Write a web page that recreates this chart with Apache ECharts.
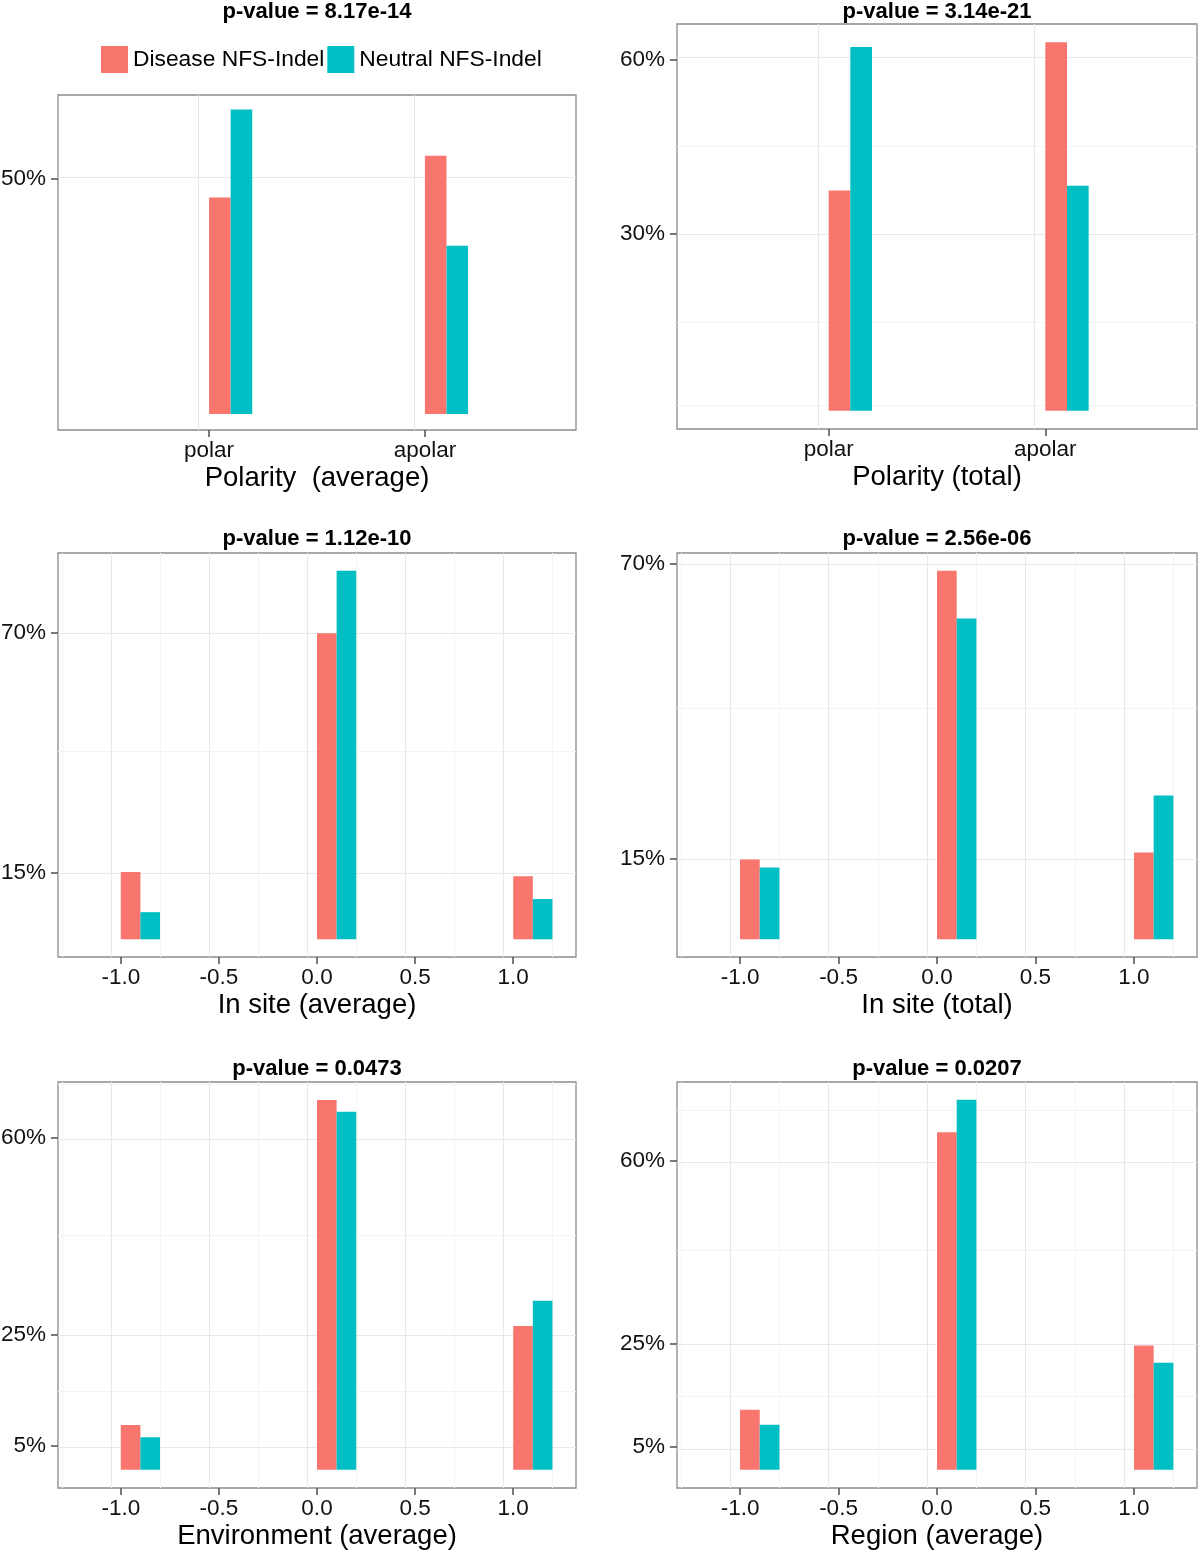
<!DOCTYPE html>
<html>
<head>
<meta charset="utf-8">
<script src="https://cdn.jsdelivr.net/npm/echarts@6/dist/echarts.min.js"></script>
<style>
html, body { margin: 0; padding: 0; background: #ffffff; }
#chart { width: 1200px; height: 1551px; }
</style>
</head>
<body>
<div id="chart"></div>
<script>
// ---------------- data ----------------
const seriesNames = ['Disease NFS-Indel', 'Neutral NFS-Indel'];

const polarityCategories = ['polar', 'apolar'];
const scoreCategories = [-1, 0, 1];
const scoreTickValues = [-1, -0.5, 0, 0.5, 1];
const scoreTickLabels = ['-1.0', '-0.5', '0.0', '0.5', '1.0'];

const pValueTitles = [
  'p-value = 8.17e-14', 'p-value = 3.14e-21',
  'p-value = 1.12e-10', 'p-value = 2.56e-06',
  'p-value = 0.0473', 'p-value = 0.0207'
];
const axisTitles = [
  'Polarity  (average)', 'Polarity (total)',
  'In site (average)', 'In site (total)',
  'Environment (average)', 'Region (average)'
];

// Polarity (average)
const polarityAvgDisease = [0.457, 0.545];
const polarityAvgNeutral = [0.643, 0.355];
const polarityAvgYTicks = [0.4975];
const polarityAvgYLabels = ['50%'];

// Polarity (total)
const polarityTotDisease = [0.374, 0.626];
const polarityTotNeutral = [0.618, 0.382];
const polarityTotYTicks = [0.3012, 0.5963];
const polarityTotYLabels = ['30%', '60%'];

// In site (average)
const inSiteAvgDisease = [0.154, 0.700, 0.144];
const inSiteAvgNeutral = [0.062, 0.843, 0.092];
const inSiteAvgYTicks = [0.1523, 0.701];
const inSiteAvgYLabels = ['15%', '70%'];

// In site (total)
const inSiteTotDisease = [0.149, 0.687, 0.162];
const inSiteTotNeutral = [0.134, 0.598, 0.268];
const inSiteTotYTicks = [0.151, 0.700];
const inSiteTotYLabels = ['15%', '70%'];

// Environment (average)
const envAvgDisease = [0.080, 0.661, 0.257];
const envAvgNeutral = [0.058, 0.640, 0.302];
const envAvgYTicks = [0.0429, 0.2408, 0.5936];
const envAvgYLabels = ['5%', '25%', '60%'];

// Region (average)
const regionAvgDisease = [0.115, 0.647, 0.238];
const regionAvgNeutral = [0.086, 0.709, 0.205];
const regionAvgYTicks = [0.0435, 0.2409, 0.5920];
const regionAvgYLabels = ['5%', '25%', '60%'];

// axis extents (data units)
const xRangePolarity = [0.3, 2.7];
const xRangeScore = [-1.32, 1.32];
const yRanges = [
  [-0.0338, 0.6734], [-0.0311, 0.6569],
  [-0.0405, 0.8834], [-0.0330, 0.7203],
  [-0.0327, 0.6932], [-0.0351, 0.7432]
];
const dodgeWidth = 0.2;

// ---------------- layout & style ----------------
const FONT = '"Liberation Sans", Arial, Helvetica, sans-serif';
const colors = ['#F8766D', '#00BFC4'];
const gridRects = [
  { left: 58,  top: 95,   width: 518, height: 335 },
  { left: 677, top: 24,   width: 520, height: 405 },
  { left: 58,  top: 553,  width: 518, height: 404 },
  { left: 677, top: 553,  width: 520, height: 404 },
  { left: 58,  top: 1082, width: 518, height: 406 },
  { left: 677, top: 1082, width: 520, height: 406 }
];
const titleYs = [12, 12, 539, 539, 1069, 1069];
const majorGrid = { color: '#e8e8e8', width: 1.1, type: 'solid' };
const minorGrid = { color: '#f4f4f4', width: 1, type: 'solid' };

const polarityPositions = polarityCategories.map((c, i) => i + 1);

const panels = [
  { x: polarityPositions, xTicks: polarityPositions, xLabels: polarityCategories, xRange: xRangePolarity, discrete: true,
    disease: polarityAvgDisease, neutral: polarityAvgNeutral, yTicks: polarityAvgYTicks, yLabels: polarityAvgYLabels },
  { x: polarityPositions, xTicks: polarityPositions, xLabels: polarityCategories, xRange: xRangePolarity, discrete: true,
    disease: polarityTotDisease, neutral: polarityTotNeutral, yTicks: polarityTotYTicks, yLabels: polarityTotYLabels },
  { x: scoreCategories, xTicks: scoreTickValues, xLabels: scoreTickLabels, xRange: xRangeScore, discrete: false,
    disease: inSiteAvgDisease, neutral: inSiteAvgNeutral, yTicks: inSiteAvgYTicks, yLabels: inSiteAvgYLabels },
  { x: scoreCategories, xTicks: scoreTickValues, xLabels: scoreTickLabels, xRange: xRangeScore, discrete: false,
    disease: inSiteTotDisease, neutral: inSiteTotNeutral, yTicks: inSiteTotYTicks, yLabels: inSiteTotYLabels },
  { x: scoreCategories, xTicks: scoreTickValues, xLabels: scoreTickLabels, xRange: xRangeScore, discrete: false,
    disease: envAvgDisease, neutral: envAvgNeutral, yTicks: envAvgYTicks, yLabels: envAvgYLabels },
  { x: scoreCategories, xTicks: scoreTickValues, xLabels: scoreTickLabels, xRange: xRangeScore, discrete: false,
    disease: regionAvgDisease, neutral: regionAvgNeutral, yTicks: regionAvgYTicks, yLabels: regionAvgYLabels }
];

function labelFor(ticks, labels, v) {
  const k = ticks.findIndex(t => Math.abs(t - v) < 1e-9);
  return k >= 0 ? labels[k] : '';
}

// ggplot-like regular minor breaks
function minorBreaks(b, range) {
  if (b.length < 2) return [];
  const bd = b[1] - b[0];
  let ext = b.slice();
  if (range[0] < ext[0]) ext.unshift(ext[0] - bd);
  if (range[1] > ext[ext.length - 1]) ext.push(ext[ext.length - 1] + bd);
  const out = [];
  for (let i = 0; i < ext.length; i++) {
    if (b.indexOf(ext[i]) < 0) out.push(ext[i]);
    if (i < ext.length - 1) out.push((ext[i] + ext[i + 1]) / 2);
  }
  return out.filter(v => v > range[0] && v < range[1]);
}

const grids = [], xAxes = [], yAxes = [], series = [], titles = [];

panels.forEach((p, i) => {
  const r = gridRects[i];
  const yRange = yRanges[i];
  grids.push(Object.assign({}, r, {
    show: true, backgroundColor: '#ffffff', borderColor: '#8c8c8c', borderWidth: 1.3,
    containLabel: false, outerBoundsMode: 'none'
  }));
  const tickStyle = { show: true, length: 7, lineStyle: { color: '#4d4d4d', width: 1.5 } };
  xAxes.push({
    gridIndex: i, type: 'value', min: p.xRange[0], max: p.xRange[1],
    axisLine: { show: false, onZero: false },
    splitLine: { show: false },
    axisTick: Object.assign({ customValues: p.xTicks }, tickStyle),
    axisLabel: {
      customValues: p.xTicks, formatter: v => labelFor(p.xTicks, p.xLabels, v),
      margin: 9, fontSize: 22.5, color: '#111', fontFamily: FONT
    },
    name: axisTitles[i], nameLocation: 'middle', nameGap: 34,
    nameTextStyle: { fontSize: 27.5, color: '#000', fontFamily: FONT }
  });
  yAxes.push({
    gridIndex: i, type: 'value', min: yRange[0], max: yRange[1],
    axisLine: { show: false, onZero: false },
    splitLine: { show: false },
    axisTick: Object.assign({ customValues: p.yTicks }, tickStyle),
    axisLabel: {
      customValues: p.yTicks, formatter: v => labelFor(p.yTicks, p.yLabels, v),
      margin: 12, fontSize: 22.5, color: '#111', fontFamily: FONT
    }
  });
  titles.push({
    text: pValueTitles[i], left: r.left + r.width / 2, top: titleYs[i],
    textAlign: 'center', textVerticalAlign: 'middle', padding: 0,
    textStyle: { fontSize: 22, fontWeight: 'bold', color: '#000', fontFamily: FONT }
  });

  const xMinor = p.discrete ? [] : minorBreaks(p.xTicks, p.xRange);
  const yMinor = minorBreaks(p.yTicks, yRange);
  const gridLines = []
    .concat(yMinor.map(v => ({ yAxis: v, lineStyle: minorGrid })))
    .concat(xMinor.map(v => ({ xAxis: v, lineStyle: minorGrid })))
    .concat(p.yTicks.map(v => ({ yAxis: v, lineStyle: majorGrid })))
    .concat(p.xTicks.map(v => ({ xAxis: v, lineStyle: majorGrid })));

  const barW = r.width / (p.xRange[1] - p.xRange[0]) * dodgeWidth / 2;
  [p.disease, p.neutral].forEach((vals, s) => {
    const ser = {
      type: 'bar', name: seriesNames[s], xAxisIndex: i, yAxisIndex: i,
      barWidth: barW, barGap: '0%', silent: true,
      itemStyle: { color: colors[s] },
      data: vals.map((v, k) => [p.x[k] + dodgeWidth / 2, v])
    };
    if (s === 0) {
      ser.markLine = {
        silent: true, symbol: ['none', 'none'], z: 1, animation: false,
        label: { show: false }, emphasis: { disabled: true },
        data: gridLines
      };
    }
    series.push(ser);
  });
});

const chart = echarts.init(document.getElementById('chart'), null, { renderer: 'canvas' });
chart.setOption({
  animation: false,
  backgroundColor: '#ffffff',
  title: titles,
  legend: {
    data: seriesNames, left: 101, top: 46, padding: 0,
    icon: 'rect', itemWidth: 27, itemHeight: 27, itemGap: 3,
    selectedMode: false,
    textStyle: { fontSize: 22.8, color: '#000', fontFamily: FONT }
  },
  grid: grids,
  xAxis: xAxes,
  yAxis: yAxes,
  series: series
});
</script>
</body>
</html>
